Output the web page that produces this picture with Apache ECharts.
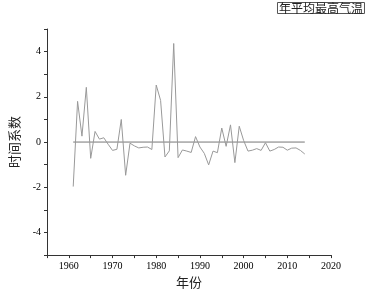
<!DOCTYPE html>
<html><head><meta charset="utf-8">
<script src="https://cdn.jsdelivr.net/npm/echarts@6/dist/echarts.min.js"></script>
<style>html,body{margin:0;padding:0;background:#fff;}#c{width:371px;height:294px;}</style>
</head><body><div id="c"></div>
<script>
var years = [];
for (var y = 1961; y <= 2014; y++) years.push(y);
var values = [-1.97, 1.8, 0.26, 2.42, -0.72, 0.47, 0.13, 0.19, -0.1, -0.37,
  -0.32, 1.0, -1.47, -0.05, -0.17, -0.26, -0.23, -0.22, -0.33, 2.52,
  1.84, -0.66, -0.39, 4.36, -0.69, -0.35, -0.4, -0.46, 0.24, -0.22,
  -0.5, -1.01, -0.4, -0.47, 0.62, -0.19, 0.76, -0.91, 0.7, 0.07,
  -0.4, -0.36, -0.29, -0.37, -0.03, -0.4, -0.33, -0.22, -0.23, -0.36,
  -0.27, -0.26, -0.37, -0.53];
var zeroLine = [[1961, 0], [2014, 0]];
var legendText = '年平均最高气温';
var xTitle = '年份';
var yTitle = '时间系数';

var chart = echarts.init(document.getElementById('c'));
var serif = '"Liberation Serif", "DejaVu Serif", serif';
var cjk = '"Noto Sans CJK SC", sans-serif';
chart.setOption({
  animation: false,
  title: {
    text: legendText, right: 6, top: 2,
    borderColor: '#555', borderWidth: 1, padding: [0, 2],
    textStyle: { fontFamily: cjk, fontSize: 12, fontWeight: 'normal', color: '#222' }
  },
  grid: { left: 43, right: 40, top: 29, bottom: 34 },
  xAxis: {
    type: 'value', min: 1955, max: 2020, interval: 5,
    name: xTitle, nameLocation: 'middle', nameGap: 20,
    nameTextStyle: { fontFamily: cjk, fontSize: 13, color: '#222' },
    axisLine: { show: true, onZero: false, lineStyle: { color: '#333', width: 1 } },
    axisTick: { show: true, length: 3, lineStyle: { color: '#333' } },
    axisLabel: { fontFamily: serif, fontSize: 10, color: '#000', margin: 6,
      formatter: function (v) { return v % 10 === 0 ? String(v) : ''; } },
    splitLine: { show: false }
  },
  yAxis: {
    type: 'value', min: -5, max: 5, interval: 1,
    name: yTitle, nameLocation: 'middle', nameGap: 26, nameRotate: 90,
    nameTextStyle: { fontFamily: cjk, fontSize: 13, color: '#222' },
    axisLine: { show: true, onZero: false, lineStyle: { color: '#333', width: 1 } },
    axisTick: { show: true, length: 3, lineStyle: { color: '#333' } },
    axisLabel: { fontFamily: serif, fontSize: 10, color: '#000', margin: 6,
      formatter: function (v) { return (v % 2 === 0 && Math.abs(v) < 5) ? String(v) : ''; } },
    splitLine: { show: false }
  },
  series: [
    { type: 'line', data: zeroLine, symbol: 'none', lineStyle: { color: '#777', width: 1 }, silent: true },
    { type: 'line', data: years.map(function (y, i) { return [y, values[i]]; }),
      symbol: 'none', lineStyle: { color: '#999', width: 1 }, silent: true }
  ]
});
</script></body></html>
